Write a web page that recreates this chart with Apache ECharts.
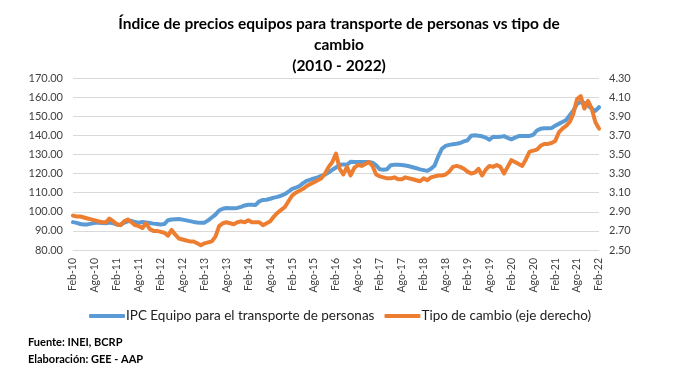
<!DOCTYPE html>
<html>
<head>
<meta charset="utf-8">
<script src="https://cdn.jsdelivr.net/npm/echarts@6/dist/echarts.min.js"></script>
<style>
html,body{margin:0;padding:0;background:#fff;}
#c{width:684px;height:382px;}
</style>
</head>
<body>
<div id="c"></div>
<script>
const monthNames = ['Ene','Feb','Mar','Abr','May','Jun','Jul','Ago','Set','Oct','Nov','Dic'];
const startYear = 2010, startMonth = 1; // Feb-10
const nMonths = 145;
const categories = [];
for (let i = 0; i < nMonths; i++) {
  const m = (startMonth + i) % 12;
  const y = startYear + Math.floor((startMonth + i) / 12);
  categories.push(monthNames[m] + '-' + String(y % 100).padStart(2, '0'));
}

const ipcEquipo = [
  94.6, 94.2, 93.6, 93.3, 93.4, 93.8, 94.2, 94.2, 94.1, 94.0, 94.4, 94.0,
  93.3, 93.1, 94.3, 95.0, 95.3, 94.6, 94.3, 94.6, 94.4, 94.1, 93.8, 93.6,
  93.4, 93.6, 95.6, 96.0, 96.1, 96.2, 95.9, 95.5, 95.1, 94.7, 94.4, 94.2,
  94.3, 95.5, 97.0, 98.5, 100.7, 101.6, 102.0, 101.9, 101.8, 102.0, 102.6, 103.3,
  103.7, 103.7, 103.6, 105.5, 106.2, 106.3, 106.8, 107.4, 107.8, 108.5, 109.2, 110.5,
  112.0, 112.6, 113.5, 115.0, 116.2, 116.8, 117.5, 118.0, 118.8, 119.5, 120.5, 122.0,
  123.2, 124.6, 124.8, 124.6, 126.2, 126.0, 126.0, 126.1, 126.1, 126.0, 125.7, 124.3,
  122.2, 122.0, 122.3, 124.4, 124.6, 124.6, 124.5, 124.2, 123.8, 123.3, 122.8, 122.2,
  121.8, 121.4, 122.5, 124.2, 129.0, 133.0, 134.5, 135.0, 135.3, 135.6, 136.0, 136.8,
  137.4, 139.8, 140.0, 139.8, 139.5, 138.8, 137.7, 139.3, 139.1, 139.2, 139.6, 138.7,
  137.9, 138.8, 139.6, 139.6, 139.6, 139.7, 140.3, 142.5, 143.4, 143.7, 143.7, 143.8,
  145.0, 146.0, 147.0, 148.0, 150.5, 153.0, 156.5, 157.5, 157.0, 155.5, 154.0, 152.8, 154.7
];

const tipoCambio = [
  2.86, 2.85, 2.85, 2.84, 2.83, 2.82, 2.81, 2.80, 2.79, 2.79, 2.83, 2.80,
  2.77, 2.76, 2.80, 2.82, 2.79, 2.76, 2.75, 2.73, 2.78, 2.72, 2.70, 2.70,
  2.69, 2.68, 2.65, 2.71, 2.66, 2.62, 2.61, 2.60, 2.59, 2.59, 2.57, 2.55,
  2.57, 2.58, 2.59, 2.64, 2.75, 2.78, 2.79, 2.78, 2.77, 2.79, 2.80, 2.79,
  2.81, 2.79, 2.79, 2.79, 2.76, 2.78, 2.80, 2.85, 2.89, 2.92, 2.95, 3.01,
  3.07, 3.10, 3.12, 3.14, 3.17, 3.19, 3.21, 3.23, 3.25, 3.30, 3.37, 3.42,
  3.51, 3.35, 3.29, 3.37, 3.28, 3.36, 3.39, 3.38, 3.40, 3.42, 3.38, 3.29,
  3.27, 3.26, 3.25, 3.25, 3.26, 3.24, 3.24, 3.26, 3.25, 3.24, 3.23, 3.22,
  3.25, 3.23, 3.26, 3.27, 3.28, 3.28, 3.29, 3.32, 3.37, 3.38, 3.37, 3.35,
  3.32, 3.30, 3.31, 3.35, 3.28, 3.34, 3.38, 3.37, 3.39, 3.37, 3.30, 3.37,
  3.44, 3.42, 3.40, 3.38, 3.45, 3.53, 3.54, 3.55, 3.59, 3.61, 3.61, 3.62,
  3.64, 3.73, 3.77, 3.80, 3.84, 3.93, 4.08, 4.11, 3.98, 4.06, 3.98, 3.84, 3.77
];

const seriesNames = ['IPC Equipo para el transporte de personas', 'Tipo de cambio (eje derecho)'];
const titleText = 'Índice de precios equipos para transporte de personas vs tipo de\ncambio\n(2010 - 2022)';
const notes = ['Fuente: INEI, BCRP', 'Elaboración: GEE - AAP'];

const FONT = "Lato, 'Open Sans', sans-serif";
const chart = echarts.init(document.getElementById('c'), null, {renderer: 'canvas'});
chart.setOption({
  animation: false,
  backgroundColor: '#fff',
  title: {
    text: titleText,
    left: 334, top: 8, textAlign: 'center',
    textStyle: {fontFamily: FONT, fontSize: 15.5, fontWeight: 'bold', color: '#000', lineHeight: 21}
  },
  grid: {left: 73, right: 85, top: 78, bottom: 132},
  legend: {
    data: seriesNames,
    left: 84, top: 304,
    icon: 'roundRect', itemWidth: 36, itemHeight: 4, itemGap: 10,
    textStyle: {fontFamily: FONT, fontSize: 13.5, color: '#222', padding: [0,0,0,-4]}
  },
  xAxis: {
    type: 'category', data: categories, boundaryGap: false,
    axisLine: {show: true, lineStyle: {color: '#d9d9d9'}},
    axisTick: {show: false},
    axisLabel: {interval: 5, rotate: 90, fontFamily: FONT, fontSize: 10.5, color: '#404040', margin: 8}
  },
  yAxis: [
    {
      type: 'value', min: 80, max: 170, interval: 10,
      axisLine: {show: false}, axisTick: {show: false},
      splitLine: {lineStyle: {color: '#d9d9d9'}},
      axisLabel: {fontFamily: FONT, fontSize: 11, color: '#404040', margin: 10, formatter: v => v.toFixed(2)}
    },
    {
      type: 'value', min: 2.5, max: 4.3, alignTicks: true,
      axisLine: {show: false}, axisTick: {show: false},
      splitLine: {show: false},
      axisLabel: {fontFamily: FONT, fontSize: 11, color: '#404040', margin: 10, formatter: v => v.toFixed(2)}
    }
  ],
  series: [
    {
      name: seriesNames[0], type: 'line', data: ipcEquipo, yAxisIndex: 0,
      showSymbol: false, symbol: 'none', color: '#5B9BD5',
      lineStyle: {width: 4, color: '#5B9BD5', cap: 'round', join: 'round'}
    },
    {
      name: seriesNames[1], type: 'line', data: tipoCambio, yAxisIndex: 1,
      showSymbol: false, symbol: 'none', color: '#ED7D31',
      lineStyle: {width: 4, color: '#ED7D31', cap: 'round', join: 'round'}
    }
  ],
  graphic: [
    {type: 'text', left: 28, top: 337, style: {text: notes[0], font: "bold 11px " + FONT, fill: '#000'}},
    {type: 'text', left: 28, top: 354, style: {text: notes[1], font: "bold 11px " + FONT, fill: '#000'}}
  ]
});
</script>
</body>
</html>
